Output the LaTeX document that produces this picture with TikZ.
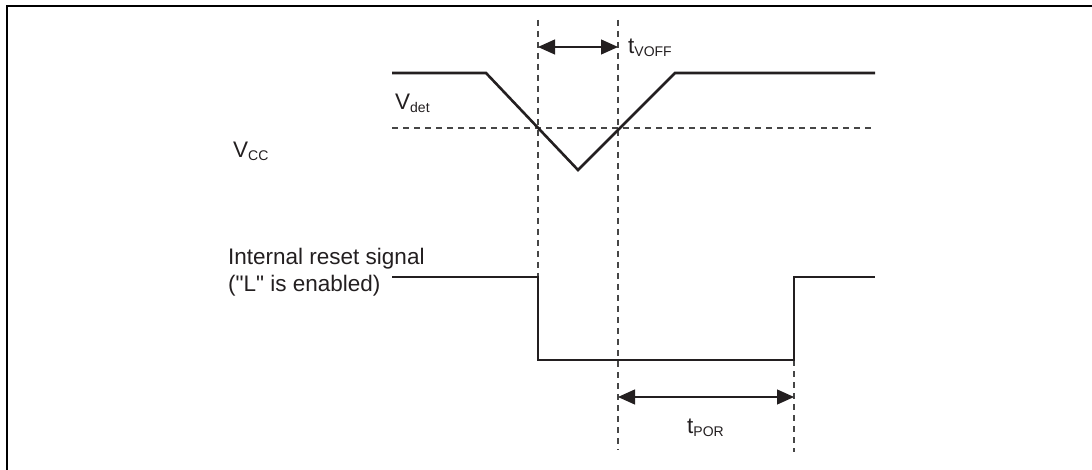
\documentclass[tikz,border=0pt]{standalone}
\usepackage{fontspec}
\setmainfont{Liberation Sans}[Ligatures=TeXOff]
\usetikzlibrary{arrows.meta,positioning}
\definecolor{inkblack}{RGB}{35,31,32}
\definecolor{guidegray}{RGB}{70,70,70}
\newcommand{\lowsub}[1]{\raisebox{-3pt}{\fontsize{14}{14}\selectfont #1}}

\begin{document}
\begin{tikzpicture}[x=1pt,y=-1pt,
    wave/.style={inkblack,line width=2.6pt,line join=miter},
    guide/.style={guidegray,line width=1.2pt,dash pattern=on 6pt off 5pt},
    span/.style={inkblack,line width=1.2pt,{Triangle[length=17pt,width=15pt]}-{Triangle[length=17pt,width=15pt]}},
    lbl/.style={font=\fontsize{22.5}{27}\selectfont,text=inkblack,inner sep=0pt}]
  \useasboundingbox (0,0) rectangle (1092,470);
  % frame (top and left edge only)
  \draw[black,line width=2.8pt] (7,470) -- (7,6) -- (1092,6);
  % time markers
  \coordinate (voffL) at (538,47);
  \coordinate (voffR) at (618,47);
  \coordinate (porL) at (618,397);
  \coordinate (porR) at (794,397);
  \draw[guide] (538,20) -- (538,277);
  \draw[guide] (618,20) -- (618,450);
  \draw[guide] (794,360) -- (794,452);
  \draw[guide] (392,128) -- (875,128);
  % supply voltage
  \draw[wave] (392,73) -- (486,73) -- (578,170) -- (675,73) -- (875,73);
  % internal reset
  \draw[wave] (392,277) -- (538,277) -- (538,360) -- (794,360) -- (794,277) -- (875,277);
  % spans
  \draw[span] (voffL) -- (voffR);
  \draw[span] (porL) -- (porR);
  % labels
  \node[lbl,anchor=base west] (vcc) at (233,158) {V\lowsub{CC}};
  \node[lbl,anchor=base west] (vdet) at (395,110) {V\lowsub{det}};
  \node[lbl,anchor=base west] (tvoff) at (628,54) {t\lowsub{VOFF}};
  \node[lbl,anchor=base west] (tpor) at (687,433) {t\lowsub{POR}};
  \node[lbl,anchor=base west] (resetlbl) at (228,265) {Internal reset signal};
  \node[lbl,anchor=base west] (enlbl) at (228,292) {("L" is enabled)};
\end{tikzpicture}
\end{document}
